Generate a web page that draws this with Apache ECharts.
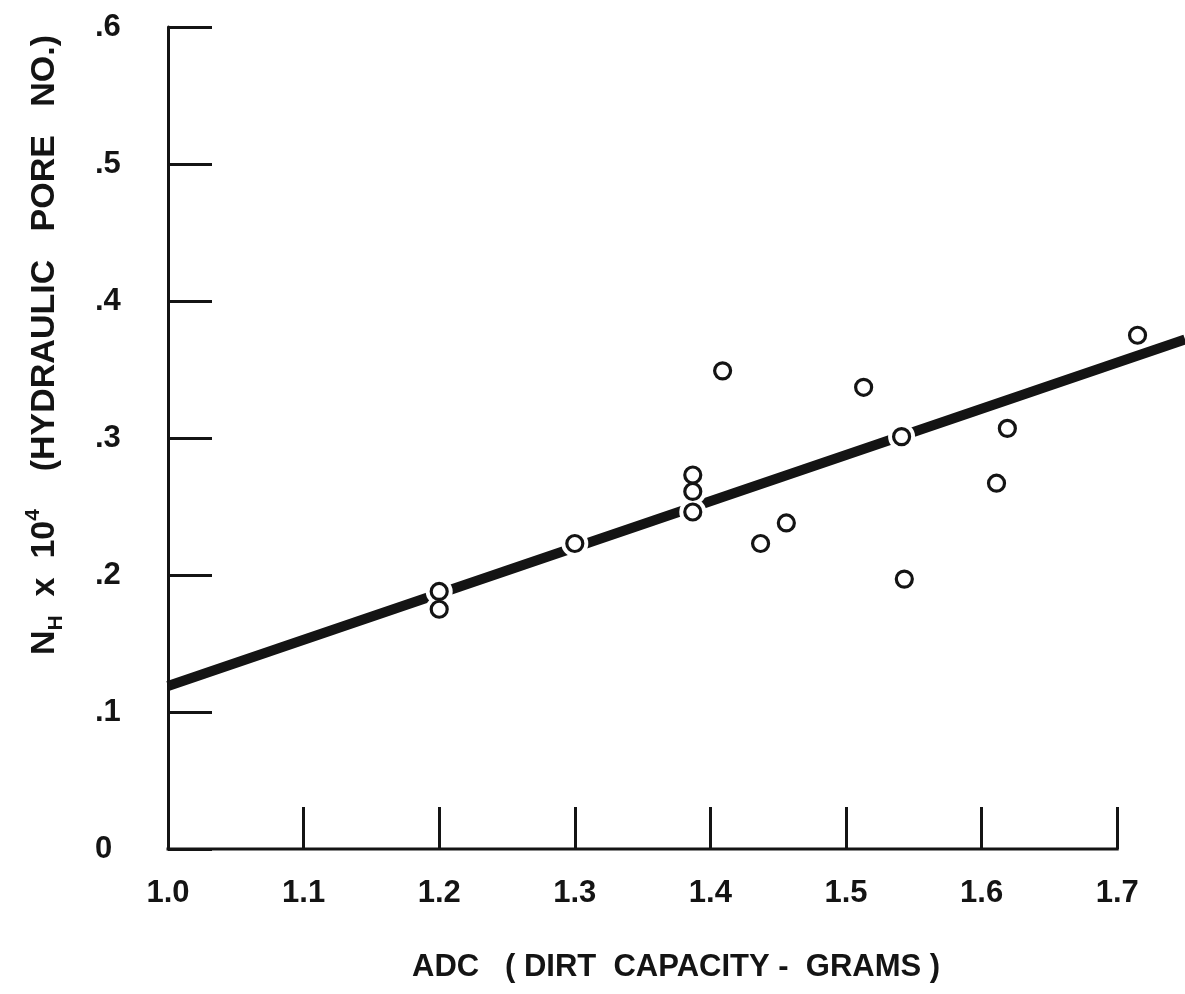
<!DOCTYPE html>
<html>
<head>
<meta charset="utf-8">
<script src="https://cdn.jsdelivr.net/npm/echarts@6/dist/echarts.min.js"></script>
<style>
  html, body { margin: 0; padding: 0; background: #fff; }
  #chart { width: 1185px; height: 994px; }
</style>
</head>
<body>
<div id="chart"></div>
<script>
// Measured samples: dirt capacity (g) vs hydraulic pore number (x 10^4)
var adc = [1.20, 1.20, 1.30, 1.387, 1.387, 1.387, 1.409, 1.437, 1.456, 1.513, 1.541, 1.543, 1.611, 1.619, 1.715];
var nh  = [0.188, 0.175, 0.223, 0.273, 0.261, 0.246, 0.349, 0.223, 0.238, 0.337, 0.301, 0.197, 0.267, 0.307, 0.375];

// Fitted straight line, end points (it runs on past the last tick)
var fitX = [1.0, 1.75];
var fitY = [0.119, 0.372];

// Tick labels
var xTickLabels = ['1.0', '1.1', '1.2', '1.3', '1.4', '1.5', '1.6', '1.7'];
var yTickLabels = ['0', '.1', '.2', '.3', '.4', '.5', '.6'];

var xTickValues = xTickLabels.map(parseFloat);
var xFirst = xTickValues[0];
var xLast = xTickValues[xTickValues.length - 1];

var INK = '#141414';
var FONT = '"Liberation Sans", Arial, sans-serif';

var points = adc.map(function (x, i) { return [x, nh[i]]; });
var fitLine = fitX.map(function (x, i) { return [x, fitY[i]]; });
// horizontal axis base line, only as far as the last tick
var baseLine = [[xFirst, 0], [xLast, 0]];

var chart = echarts.init(document.getElementById('chart'), null, { renderer: 'canvas' });

chart.setOption({
  backgroundColor: '#ffffff',
  animation: false,
  grid: { left: 168, right: 0, top: 27, bottom: 145 },
  xAxis: {
    type: 'value',
    min: xFirst,
    max: fitX[1],
    splitLine: { show: false },
    axisLine: { show: false },
    axisTick: {
      show: true, inside: true, length: 42,
      customValues: xTickValues,
      lineStyle: { color: INK, width: 3 }
    },
    axisLabel: {
      margin: 29,
      color: INK,
      fontFamily: FONT,
      fontWeight: 'bold',
      fontSize: 31,
      customValues: xTickValues,
      formatter: function (v) { return xTickLabels[Math.round((v - xFirst) / 0.1)]; }
    }
  },
  yAxis: {
    type: 'value',
    min: 0,
    max: 0.6,
    interval: 0.1,
    splitLine: { show: false },
    axisLine: { show: true, lineStyle: { color: INK, width: 3 } },
    axisTick: { show: true, inside: true, length: 44, lineStyle: { color: INK, width: 3 } },
    axisLabel: {
      margin: 73,
      align: 'left',
      color: INK,
      fontFamily: FONT,
      fontWeight: 'bold',
      fontSize: 31,
      formatter: function (v) { return yTickLabels[Math.round(v / 0.1)]; }
    }
  },
  graphic: [
    {
      type: 'text',
      x: 412,
      y: 967,
      style: {
        text: 'ADC   ( DIRT  CAPACITY -  GRAMS )',
        fill: INK,
        font: 'bold 31px ' + FONT,
        align: 'left',
        verticalAlign: 'middle'
      }
    },
    {
      type: 'text',
      x: 45,
      y: 345,
      rotation: Math.PI / 2,
      style: {
        text: '{m|N}{s|H}{m|  x  10}{p|4}{m|    (HYDRAULIC   PORE   NO.)}',
        align: 'center',
        verticalAlign: 'middle',
        rich: {
          m: { fill: INK, fontFamily: FONT, fontWeight: 'bold', fontSize: 34, lineHeight: 44 },
          s: { fill: INK, fontFamily: FONT, fontWeight: 'bold', fontSize: 21, lineHeight: 22, verticalAlign: 'bottom' },
          p: { fill: INK, fontFamily: FONT, fontWeight: 'bold', fontSize: 21, lineHeight: 22, verticalAlign: 'top' }
        }
      }
    }
  ],
  series: [
    {
      type: 'line',
      data: baseLine,
      symbol: 'none',
      clip: false,
      z: 2,
      lineStyle: { color: INK, width: 3, cap: 'square' },
      silent: true
    },
    {
      // regression line
      type: 'line',
      data: fitLine,
      clip: false,
      symbol: 'none',
      z: 2,
      lineStyle: { color: INK, width: 10, cap: 'butt' }
    },
    {
      // white halo that breaks the line around each point
      type: 'scatter',
      data: points,
      symbol: 'circle',
      symbolSize: 27,
      z: 3,
      itemStyle: { color: '#ffffff', opacity: 1 },
      silent: true
    },
    {
      // open circles
      type: 'scatter',
      data: points,
      symbol: 'circle',
      symbolSize: 16,
      z: 4,
      itemStyle: { color: '#ffffff', borderColor: INK, borderWidth: 3.2, opacity: 1 }
    }
  ]
});
</script>
</body>
</html>
